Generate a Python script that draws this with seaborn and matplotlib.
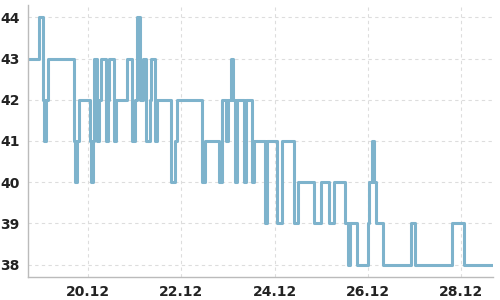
import matplotlib
matplotlib.use("Agg")
import matplotlib.pyplot as plt
import matplotlib.dates as mdates
import pandas as pd
import seaborn as sns

times = [
    "2023-12-18 17:00", "2023-12-18 22:40", "2023-12-19 00:50", "2023-12-19 01:20",
    "2023-12-19 02:20", "2023-12-19 03:20", "2023-12-19 16:50", "2023-12-19 17:20",
    "2023-12-19 18:20", "2023-12-19 19:20", "2023-12-20 01:00", "2023-12-20 01:30",
    "2023-12-20 02:30", "2023-12-20 03:10", "2023-12-20 04:40", "2023-12-20 05:40",
    "2023-12-20 06:40", "2023-12-20 09:20", "2023-12-20 10:20", "2023-12-20 10:50",
    "2023-12-20 13:30", "2023-12-20 14:30", "2023-12-20 20:10", "2023-12-20 22:40",
    "2023-12-21 00:15", "2023-12-21 01:20", "2023-12-21 02:50", "2023-12-21 04:20",
    "2023-12-21 06:00", "2023-12-21 08:00", "2023-12-21 08:30", "2023-12-21 10:40",
    "2023-12-21 11:40", "2023-12-21 18:50", "2023-12-21 20:50", "2023-12-21 21:30",
    "2023-12-22 10:50", "2023-12-22 12:20", "2023-12-22 19:10", "2023-12-22 21:10",
    "2023-12-22 23:10", "2023-12-23 00:15", "2023-12-23 01:20", "2023-12-23 02:50",
    "2023-12-23 03:50", "2023-12-23 04:50", "2023-12-23 08:00", "2023-12-23 09:30",
    "2023-12-23 12:10", "2023-12-23 13:10", "2023-12-23 18:50", "2023-12-23 20:20",
    "2023-12-24 01:30", "2023-12-24 03:40", "2023-12-24 09:50", "2023-12-24 11:50",
    "2023-12-24 20:10", "2023-12-24 23:45", "2023-12-25 03:50", "2023-12-25 06:30",
    "2023-12-25 12:10", "2023-12-25 13:40", "2023-12-25 14:40", "2023-12-25 18:20",
    "2023-12-26 00:00", "2023-12-26 00:30", "2023-12-26 02:00", "2023-12-26 03:00",
    "2023-12-26 04:10", "2023-12-26 07:40", "2023-12-26 22:10", "2023-12-27 00:15",
    "2023-12-27 19:20", "2023-12-28 01:30", "2023-12-28 16:30",
]
values = [
    43, 44, 42, 41,
    42, 43, 41, 40,
    41, 42, 41, 40,
    41, 43, 41, 42,
    43, 41, 42, 43,
    41, 42, 43, 41,
    42, 44, 42, 43,
    41, 42, 43, 41,
    42, 40, 41, 42,
    40, 41, 40, 42,
    41, 42, 43, 42,
    40, 42, 40, 42,
    40, 41, 39, 41,
    39, 41, 39, 40,
    39, 40, 39, 40,
    39, 38, 39, 38,
    39, 40, 41, 40,
    39, 38, 39, 38,
    39, 38, 38,
]
y_ticks = [38, 39, 40, 41, 42, 43, 44]
x_tick_days = [20, 22, 24, 26, 28]

df = pd.DataFrame({"time": pd.to_datetime(times), "value": values})

sns.set_style("white")
fig = plt.figure(figsize=(5, 3), dpi=100)
ax = fig.add_axes([0.056, 0.077, 0.93, 0.906])

sns.lineplot(data=df, x="time", y="value", ax=ax, color="#7eb3cc",
             linewidth=2.2, drawstyle="steps-post", estimator=None, sort=False)

ax.set_xlim(df["time"].min(), df["time"].max())
ax.margins(y=0.05)
ax.set_yticks(y_ticks)
ax.xaxis.set_major_locator(mdates.DayLocator(bymonthday=x_tick_days))
ax.xaxis.set_major_formatter(mdates.DateFormatter("%d.%m"))
ax.set_xlabel("")
ax.set_ylabel("")

ax.grid(True, color="#dddddd", linestyle=(0, (3, 3)), linewidth=0.8)
ax.set_axisbelow(True)
for s in ["top", "right"]:
    ax.spines[s].set_visible(False)
for s in ["left", "bottom"]:
    ax.spines[s].set_color("#bbbbbb")
    ax.spines[s].set_linewidth(1.0)

ax.tick_params(axis="both", which="both", colors="#888888", length=3, width=1,
               labelsize=10, labelcolor="#222222")
ax.tick_params(axis="y", length=2, pad=4)
ax.tick_params(axis="x", pad=2.5)
for lab in ax.get_xticklabels() + ax.get_yticklabels():
    lab.set_fontweight("bold")

fig.savefig("out.png", dpi=100)
